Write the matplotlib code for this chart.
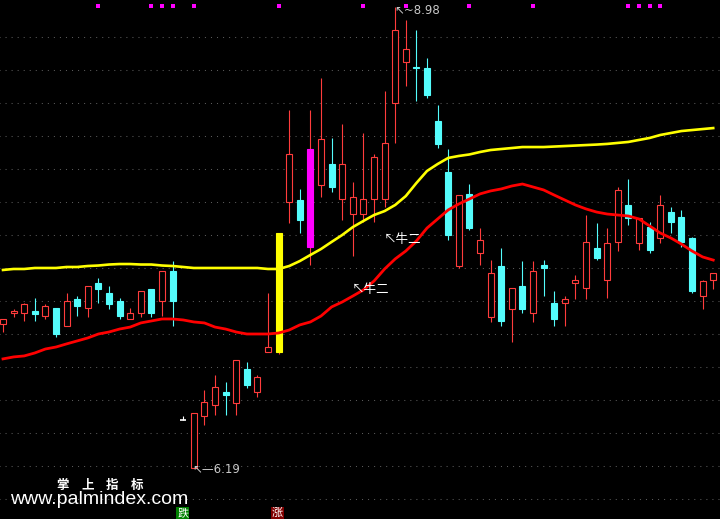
import numpy as np
import matplotlib
matplotlib.use('Agg')
from matplotlib import pyplot as plt
from matplotlib.patches import Rectangle

plt.rcParams['lines.scale_dashes'] = False

# daily bars
opens = [7.06, 7.13, 7.13, 7.14, 7.11, 7.16, 7.05, 7.21, 7.16, 7.31,
         7.25, 7.20, 7.09, 7.13, 7.27, 7.20, 7.38, 6.48, 6.19, 6.50,
         6.57, 6.65, 6.58, 6.79, 6.65, 6.89, 6.89, 7.80, 7.81, 7.53,
         7.90, 8.03, 7.82, 7.73, 7.73, 7.82, 7.82, 8.40, 8.65, 8.62,
         8.61, 8.29, 7.98, 7.41, 7.85, 7.49, 7.10, 7.41, 7.15, 7.29,
         7.13, 7.42, 7.19, 7.19, 7.31, 7.28, 7.52, 7.33, 7.56, 7.78,
         7.55, 7.65, 7.58, 7.74, 7.71, 7.58, 7.23, 7.33]
closes = [7.09, 7.14, 7.18, 7.12, 7.17, 7.00, 7.20, 7.17, 7.29, 7.27,
          7.18, 7.11, 7.13, 7.26, 7.13, 7.38, 7.20, 6.48, 6.52, 6.59,
          6.68, 6.63, 6.84, 6.69, 6.74, 6.92, 7.61, 8.09, 7.69, 8.12,
          8.18, 7.89, 8.03, 7.83, 7.82, 8.07, 8.16, 8.84, 8.73, 8.61,
          8.45, 8.15, 7.60, 7.84, 7.64, 7.57, 7.37, 7.08, 7.28, 7.15,
          7.38, 7.40, 7.09, 7.21, 7.33, 7.56, 7.46, 7.55, 7.87, 7.70,
          7.70, 7.51, 7.78, 7.68, 7.56, 7.26, 7.32, 7.37]
highs = [7.09, 7.15, 7.19, 7.22, 7.18, 7.16, 7.25, 7.23, 7.29, 7.34,
         7.29, 7.22, 7.16, 7.26, 7.27, 7.38, 7.44, 6.50, 6.52, 6.66,
         6.75, 6.71, 6.84, 6.83, 6.75, 7.25, 7.61, 8.36, 7.88, 8.36,
         8.55, 8.19, 8.27, 7.92, 8.22, 8.09, 8.47, 8.98, 8.90, 8.84,
         8.67, 8.39, 8.12, 7.84, 7.91, 7.64, 7.45, 7.52, 7.28, 7.44,
         7.44, 7.45, 7.26, 7.23, 7.36, 7.72, 7.67, 7.64, 7.89, 7.94,
         7.70, 7.68, 7.84, 7.77, 7.75, 7.59, 7.33, 7.37]
lows = [7.01, 7.10, 7.08, 7.08, 7.09, 6.98, 7.05, 7.11, 7.10, 7.19,
        7.15, 7.09, 7.09, 7.10, 7.10, 7.11, 7.05, 6.48, 6.19, 6.45,
        6.51, 6.51, 6.51, 6.67, 6.62, 6.89, 6.88, 7.67, 7.61, 7.42,
        7.83, 7.86, 7.69, 7.47, 7.68, 7.68, 7.77, 8.16, 8.50, 8.41,
        8.43, 8.13, 7.57, 7.40, 7.63, 7.42, 7.07, 7.05, 6.95, 7.13,
        7.07, 7.23, 7.05, 7.05, 7.21, 7.21, 7.45, 7.22, 7.50, 7.66,
        7.51, 7.49, 7.55, 7.61, 7.53, 7.25, 7.15, 7.27]

# moving averages
ma_yellow = [7.388, 7.394, 7.394, 7.400, 7.400, 7.400, 7.406, 7.406, 7.412, 7.415,
             7.421, 7.424, 7.424, 7.421, 7.421, 7.415, 7.412, 7.406, 7.400, 7.400,
             7.400, 7.400, 7.400, 7.400, 7.400, 7.394, 7.394, 7.412, 7.442, 7.479,
             7.515, 7.558, 7.600, 7.648, 7.685, 7.721, 7.745, 7.782, 7.836, 7.915,
             7.988, 8.030, 8.067, 8.079, 8.088, 8.103, 8.115, 8.121, 8.127, 8.133,
             8.133, 8.133, 8.136, 8.139, 8.142, 8.145, 8.148, 8.152, 8.158, 8.164,
             8.176, 8.188, 8.206, 8.218, 8.230, 8.236, 8.242, 8.248]
ma_red = [6.849, 6.861, 6.867, 6.885, 6.909, 6.921, 6.940, 6.958, 6.976, 7.000,
          7.012, 7.030, 7.042, 7.067, 7.079, 7.091, 7.091, 7.085, 7.073, 7.067,
          7.042, 7.030, 7.012, 7.000, 7.000, 7.000, 7.006, 7.024, 7.055, 7.073,
          7.109, 7.164, 7.194, 7.230, 7.267, 7.321, 7.394, 7.455, 7.503, 7.564,
          7.642, 7.697, 7.752, 7.788, 7.818, 7.849, 7.867, 7.879, 7.897, 7.909,
          7.891, 7.873, 7.842, 7.812, 7.782, 7.758, 7.739, 7.727, 7.721, 7.715,
          7.697, 7.655, 7.612, 7.582, 7.545, 7.503, 7.467, 7.448]

signal_days = [9, 14, 15, 16, 18, 26, 34, 38, 44, 50, 59, 60, 61, 62]
limit_down_day = 17
limit_up_day = 26
label_points = [(32.9, 7.267), (35.9, 7.570)]
grid_levels = np.arange(6.0, 8.81, 0.2)
brand_chars = ['掌', '上', '指', '标']

highlight = {26: '#ffff00', 29: '#ff00ff'}
UP = '#ff3c3c'
DOWN = '#54fcfc'
CJK = ['Noto Sans CJK SC', 'DejaVu Sans']

fig = plt.figure(figsize=(7.2, 5.19), dpi=100, facecolor='black')
ax = fig.add_axes([0, 0, 1, 1])
ax.set_xlim(-0.283, 67.64)
ax.set_ylim(5.8787, 9.0242)
ax.axis('off')

ax.hlines(grid_levels, -1, 70, colors='#5a5a5a', linewidth=0.75,
          linestyles=(0, (0.75, 3.6)), zorder=0)

w = 0.57
for i in range(len(opens)):
    o, c, h, l = opens[i], closes[i], highs[i], lows[i]
    top, bot = max(o, c), min(o, c)
    if c > o:
        col, fill = UP, False
    elif c < o:
        col, fill = DOWN, True
    else:
        col, fill = 'white', True
    ax.vlines(i, top, h, color=col, lw=0.8, zorder=2)
    ax.vlines(i, l, bot, color=col, lw=0.8, zorder=2)
    if i in highlight:
        fc = highlight[i]
        ax.add_patch(Rectangle((i - w / 2, bot), w, top - bot, facecolor=fc,
                               edgecolor=fc, lw=0.8, zorder=3))
    elif top - bot < 0.005:
        ax.hlines(top, i - w / 2, i + w / 2, color=col, lw=1.2, zorder=3)
    else:
        ax.add_patch(Rectangle((i - w / 2, bot), w, top - bot,
                               facecolor=col if fill else 'black',
                               edgecolor=col, lw=0.8, zorder=3))

x = np.arange(len(ma_yellow))
ax.plot(x, ma_yellow, color='#ffff00', lw=1.9, zorder=4)
ax.plot(x, ma_red, color='#ff0000', lw=2.0, zorder=4)

# signal dots at top
ax.scatter(signal_days, [8.99] * len(signal_days), marker='s', s=7,
           color='#ff00ff', linewidths=0, zorder=5)

# high / low marks
hi = int(np.argmax(highs))
lo = int(np.argmin(lows))
ax.annotate('↖~' + f'{highs[hi]:.2f}', xy=(hi, highs[hi]), xytext=(-1, -3),
            textcoords='offset pixels', ha='left', va='center',
            color='#c8c8c8', fontsize=8.5, family='DejaVu Sans')
ax.annotate('↖—' + f'{lows[lo]:.2f}', xy=(lo, lows[lo]), xytext=(-1, -2),
            textcoords='offset pixels', ha='left', va='center',
            color='#c8c8c8', fontsize=8.5, family='DejaVu Sans')

for lx, ly in label_points:
    ax.text(lx, ly, '↖牛二', color='white', fontsize=9, ha='left', va='center',
            family=CJK, zorder=6)

# watermark
for k, ch in enumerate(brand_chars):
    fig.text((62.5 + 25 * k) / 720, 1 - 485 / 519, ch, color='white',
             fontsize=9, fontweight='bold', ha='center', va='center',
             family=CJK)
fig.text(10 / 720, 1 - 500 / 519, 'www.palmindex.com', color='white',
         fontsize=14, ha='left', va='center', family='Liberation Sans')

# limit up / down tags at the bottom
ax.text(limit_down_day - 0.05, 5.915, '跌', color='white', fontsize=8,
        ha='center', va='center', family=CJK,
        bbox=dict(boxstyle='square,pad=0.08', fc='#008000', ec='none'))
ax.text(limit_up_day - 0.1, 5.915, '涨', color='white', fontsize=8,
        ha='center', va='center', family=CJK,
        bbox=dict(boxstyle='square,pad=0.08', fc='#800000', ec='none'))

fig.savefig('out.png', dpi=100, facecolor='black')
